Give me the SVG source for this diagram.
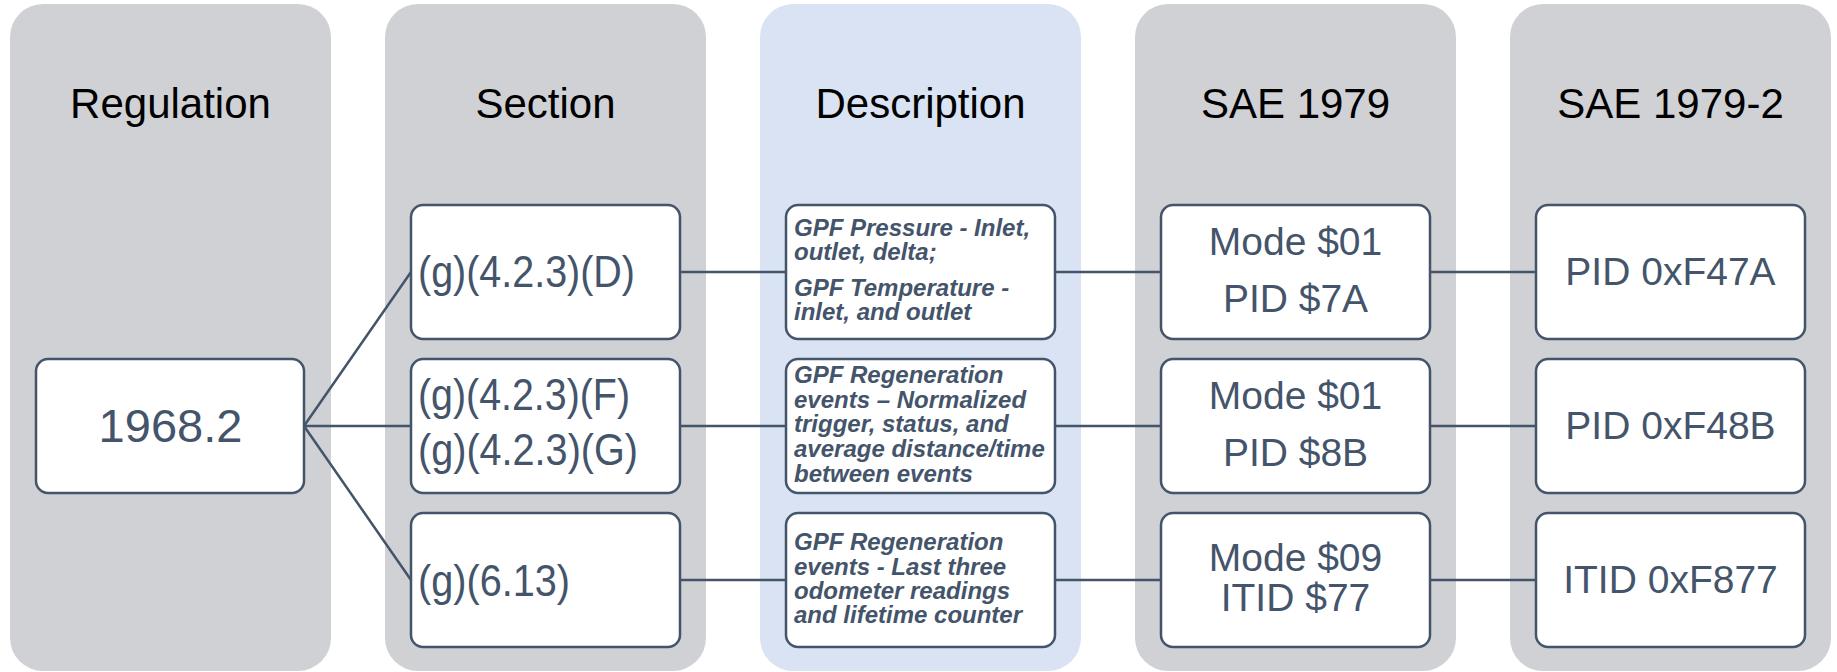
<svg xmlns="http://www.w3.org/2000/svg" width="1837" height="672" viewBox="0 0 1837 672">
<style>
.col{fill:#CFD1D5;}
.colb{fill:#DAE3F3;}
.node{fill:#FFFFFF;stroke:#44546A;stroke-width:2.5;}
.title{font-family:"Liberation Sans",Arial,sans-serif;font-size:42px;fill:#000000;text-anchor:middle;}
.t{font-family:"Liberation Sans",Arial,sans-serif;fill:#44546A;}
.c{text-anchor:middle;}
.sec{font-size:45px;}
.big{font-size:39px;}
.desc{font-size:24px;font-weight:bold;font-style:italic;}
.conn{stroke:#44546A;stroke-width:2.5;fill:none;}
</style>
<rect width="1837" height="672" fill="#FFFFFF"/>
<g id="columns">
<rect class="col" x="10" y="4" width="321" height="667" rx="33"/>
<rect class="col" x="385" y="4" width="321" height="667" rx="33"/>
<rect class="colb" x="760" y="4" width="321" height="667" rx="33"/>
<rect class="col" x="1135" y="4" width="321" height="667" rx="33"/>
<rect class="col" x="1510" y="4" width="321" height="667" rx="33"/>
<text class="title" x="170.5" y="118">Regulation</text>
<text class="title" x="545.5" y="118">Section</text>
<text class="title" x="920.5" y="118">Description</text>
<text class="title" x="1295.5" y="118">SAE 1979</text>
<text class="title" x="1670.5" y="118">SAE 1979-2</text>
</g>
<g id="connectors">
<path class="conn" d="M304 426 L411 272 M304 426 L411 426 M304 426 L411 580"/>
<path class="conn" d="M680 272 H786 M680 426 H786 M680 580 H786"/>
<path class="conn" d="M1055 272 H1161 M1055 426 H1161 M1055 580 H1161"/>
<path class="conn" d="M1430 272 H1536 M1430 426 H1536 M1430 580 H1536"/>
</g>
<g id="reg">
<rect class="node" x="36" y="359" width="268" height="134" rx="12"/>
<text class="t c" x="170.5" y="442" font-size="47">1968.2</text>
</g>
<g id="sec1">
<rect class="node" x="411" y="205" width="269" height="134" rx="12"/>
<text class="t sec" x="418" y="287" textLength="217" lengthAdjust="spacingAndGlyphs">(g)(4.2.3)(D)</text>
</g>
<g id="sec2">
<rect class="node" x="411" y="359" width="269" height="134" rx="12"/>
<text class="t sec" x="418" y="410" textLength="212" lengthAdjust="spacingAndGlyphs">(g)(4.2.3)(F)</text>
<text class="t sec" x="418" y="465" textLength="220" lengthAdjust="spacingAndGlyphs">(g)(4.2.3)(G)</text>
</g>
<g id="sec3">
<rect class="node" x="411" y="513" width="269" height="134" rx="12"/>
<text class="t sec" x="418" y="596" textLength="152" lengthAdjust="spacingAndGlyphs">(g)(6.13)</text>
</g>
<g id="desc1">
<rect class="node" x="786" y="205" width="269" height="134" rx="12"/>
<text class="t desc" x="794" y="236">GPF Pressure - Inlet,</text>
<text class="t desc" x="794" y="260">outlet, delta;</text>
<text class="t desc" x="794" y="296">GPF Temperature -</text>
<text class="t desc" x="794" y="320">inlet, and outlet</text>
</g>
<g id="desc2">
<rect class="node" x="786" y="359" width="269" height="134" rx="12"/>
<text class="t desc" x="794" y="383">GPF Regeneration</text>
<text class="t desc" x="794" y="408">events – Normalized</text>
<text class="t desc" x="794" y="432">trigger, status, and</text>
<text class="t desc" x="794" y="457">average distance/time</text>
<text class="t desc" x="794" y="482">between events</text>
</g>
<g id="desc3">
<rect class="node" x="786" y="513" width="269" height="134" rx="12"/>
<text class="t desc" x="794" y="550">GPF Regeneration</text>
<text class="t desc" x="794" y="575">events - Last three</text>
<text class="t desc" x="794" y="599">odometer readings</text>
<text class="t desc" x="794" y="623">and lifetime counter</text>
</g>
<g id="sae1">
<rect class="node" x="1161" y="205" width="269" height="134" rx="12"/>
<text class="t c big" x="1295.5" y="255">Mode $01</text>
<text class="t c big" x="1295.5" y="312">PID $7A</text>
</g>
<g id="sae2">
<rect class="node" x="1161" y="359" width="269" height="134" rx="12"/>
<text class="t c big" x="1295.5" y="409">Mode $01</text>
<text class="t c big" x="1295.5" y="466">PID $8B</text>
</g>
<g id="sae3">
<rect class="node" x="1161" y="513" width="269" height="134" rx="12"/>
<text class="t c big" x="1295.5" y="571">Mode $09</text>
<text class="t c big" x="1295.5" y="611">ITID $77</text>
</g>
<g id="saeb1">
<rect class="node" x="1536" y="205" width="269" height="134" rx="12"/>
<text class="t c big" x="1670.5" y="285">PID 0xF47A</text>
</g>
<g id="saeb2">
<rect class="node" x="1536" y="359" width="269" height="134" rx="12"/>
<text class="t c big" x="1670.5" y="439">PID 0xF48B</text>
</g>
<g id="saeb3">
<rect class="node" x="1536" y="513" width="269" height="134" rx="12"/>
<text class="t c big" x="1670.5" y="593">ITID 0xF877</text>
</g>
</svg>
